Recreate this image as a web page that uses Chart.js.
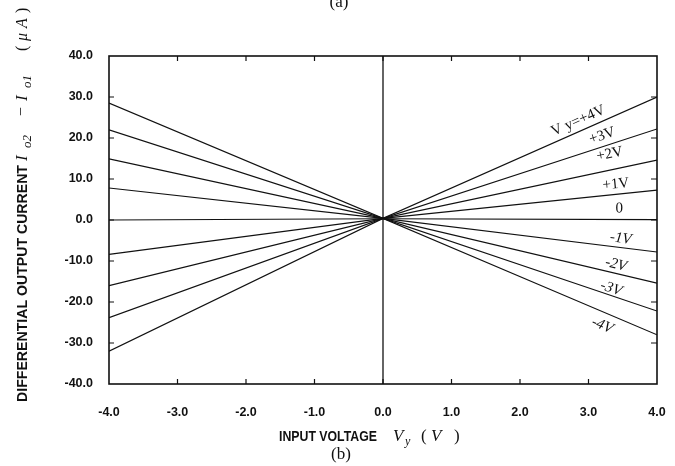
<!DOCTYPE html>
<html>
<head>
<meta charset="utf-8">
<script src="https://cdn.jsdelivr.net/npm/chart.js@4.4.1/dist/chart.umd.min.js"></script>
<style>
  html, body { margin: 0; padding: 0; background: #fff; }
  #wrap { width: 675px; height: 466px; }
</style>
</head>
<body>
<div id="wrap"><canvas id="myChart" width="675" height="466"></canvas></div>
<script>
// input voltage (x) and differential output current (y, uA) for each Vy
const inputVoltage = [-4, 0, 4];

const vyNames = ['+4V', '+3V', '+2V', '+1V', '0', '-1V', '-2V', '-3V', '-4V'];

const vyPlus4 = [28.5, 0.4, 30.0];
const vyPlus3 = [22.0, 0.4, 22.2];
const vyPlus2 = [14.9, 0.4, 14.6];
const vyPlus1 = [7.8, 0.4, 7.3];
const vyZero = [0.0, 0.3, 0.1];
const vyMinus1 = [-8.4, 0.4, -7.8];
const vyMinus2 = [-16.0, 0.4, -15.4];
const vyMinus3 = [-23.8, 0.4, -22.2];
const vyMinus4 = [-32.0, 0.4, -28.0];

const xTicks = [-4, -3, -2, -1, 0, 1, 2, 3, 4];
const yTicks = [-40, -30, -20, -10, 0, 10, 20, 30, 40];

const allSeries = [vyPlus4, vyPlus3, vyPlus2, vyPlus1, vyZero, vyMinus1, vyMinus2, vyMinus3, vyMinus4];

// where the curve labels sit: x on the curve, and pixels above it
const labelText = ['V y=+4V', '+3V', '+2V', '+1V', '0', '-1V', '-2V', '-3V', '-4V'];
const labelAt = [2.85, 3.2, 3.31, 3.4, 3.45, 3.47, 3.4, 3.33, 3.2];
const labelLift = [11, 11, 16, 10, 11, 9, 9, 7, -14];

const datasets = allSeries.map((vals, i) => ({
    label: vyNames[i],
    data: vals.map((v, j) => ({ x: inputVoltage[j], y: v })),
    borderColor: '#111',
    borderWidth: 1.2,
    pointRadius: 0,
    fill: false,
    tension: 0
}));

// draw text squeezed to a given width
function fitText(ctx, str, x, y, w) {
    const real = ctx.measureText(str).width;
    ctx.save();
    ctx.translate(x, y);
    ctx.scale(w / real, 1);
    ctx.fillText(str, 0, 0);
    ctx.restore();
}

const frame = {
    id: 'frame',
    afterDraw(chart) {
        const { ctx, chartArea: a, scales: { x, y } } = chart;
        ctx.save();
        ctx.strokeStyle = '#111';
        ctx.fillStyle = '#111';

        // box
        ctx.lineWidth = 1.6;
        ctx.strokeRect(a.left, a.top, a.right - a.left, a.bottom - a.top);

        // vertical line at 0
        ctx.lineWidth = 1.3;
        const x0 = x.getPixelForValue(0);
        ctx.beginPath();
        ctx.moveTo(x0, a.top);
        ctx.lineTo(x0, a.bottom);
        ctx.stroke();

        // inward ticks all round
        ctx.lineWidth = 1.2;
        ctx.beginPath();
        xTicks.slice(1, -1).forEach(v => {
            const px = x.getPixelForValue(v);
            ctx.moveTo(px, a.bottom); ctx.lineTo(px, a.bottom - 5);
            ctx.moveTo(px, a.top); ctx.lineTo(px, a.top + 5);
        });
        yTicks.slice(1, -1).forEach(v => {
            const py = y.getPixelForValue(v);
            ctx.moveTo(a.left, py); ctx.lineTo(a.left + 5, py);
            ctx.moveTo(a.right, py); ctx.lineTo(a.right - 6, py);
        });
        ctx.stroke();

        // curve labels
        allSeries.forEach((vals, i) => {
            const xv = labelAt[i];
            const t = (xv - inputVoltage[1]) / (inputVoltage[2] - inputVoltage[1]);
            const yv = vals[1] + t * (vals[2] - vals[1]);
            const p1x = x.getPixelForValue(inputVoltage[1]), p1y = y.getPixelForValue(vals[1]);
            const p2x = x.getPixelForValue(inputVoltage[2]), p2y = y.getPixelForValue(vals[2]);
            const ang = Math.atan2(p2y - p1y, p2x - p1x);
            const px = x.getPixelForValue(xv);
            const py = y.getPixelForValue(yv) - labelLift[i];
            ctx.save();
            ctx.translate(px, py);
            ctx.rotate(ang);
            ctx.textAlign = 'center';
            ctx.textBaseline = 'middle';
            const neg = labelText[i].startsWith('-');
            ctx.font = (neg ? 'italic ' : '') + '15px "Liberation Serif"';
            ctx.fillText(labelText[i], 0, 0);
            ctx.restore();
        });

        // x title
        ctx.textBaseline = 'alphabetic';
        ctx.textAlign = 'left';
        ctx.font = 'bold 14px "Liberation Sans"';
        fitText(ctx, 'INPUT VOLTAGE', 279, 441, 98);
        ctx.font = 'italic 17px "Liberation Serif"';
        ctx.fillText('V', 393, 441);
        ctx.font = 'italic 12px "Liberation Serif"';
        ctx.fillText('y', 405, 445);
        ctx.font = '17px "Liberation Serif"';
        ctx.fillText('(', 421, 441);
        ctx.font = 'italic 17px "Liberation Serif"';
        ctx.fillText('V', 431, 441);
        ctx.font = '17px "Liberation Serif"';
        ctx.fillText(')', 454, 441);

        // figure marks
        ctx.textAlign = 'center';
        ctx.font = '17px "Liberation Serif"';
        ctx.fillText('(b)', 341, 459);
        ctx.fillText('(a)', 339, 7);

        // y title, rotated
        ctx.save();
        ctx.translate(27, 0);
        ctx.rotate(-Math.PI / 2);
        ctx.textAlign = 'left';
        ctx.font = 'bold 14px "Liberation Sans"';
        fitText(ctx, 'DIFFERENTIAL OUTPUT CURRENT', -402, 0, 237);
        ctx.font = 'italic 17px "Liberation Serif"';
        ctx.fillText('I', -161, 0);
        ctx.font = 'italic 13px "Liberation Serif"';
        ctx.fillText('o2', -148, 4);
        ctx.font = '16px "Liberation Serif"';
        ctx.fillText('\u2212', -116, -1);
        ctx.font = 'italic 17px "Liberation Serif"';
        ctx.fillText('I', -101, 0);
        ctx.font = 'italic 13px "Liberation Serif"';
        ctx.fillText('o1', -88, 4);
        ctx.font = '16px "Liberation Serif"';
        ctx.fillText('(', -51, 0);
        ctx.font = 'italic 16px "Liberation Serif"';
        ctx.fillText('\u03bc', -41, 0);
        ctx.fillText('A', -28, 0);
        ctx.font = '16px "Liberation Serif"';
        ctx.fillText(')', -13, 0);
        ctx.restore();

        ctx.restore();
    }
};

const tickFont = { family: 'Liberation Sans', size: 12.5, weight: 'bold' };

const myChart = new Chart(document.getElementById('myChart'), {
    type: 'line',
    data: { datasets: datasets },
    options: {
        responsive: false,
        animation: false,
        devicePixelRatio: 1,
        layout: { padding: { left: 0, right: 18, top: 56, bottom: 0 } },
        plugins: {
            legend: { display: false },
            tooltip: { enabled: false }
        },
        scales: {
            x: {
                type: 'linear',
                min: -4,
                max: 4,
                afterBuildTicks: s => { s.ticks = xTicks.map(v => ({ value: v })); },
                afterFit: s => { s.height = 82; s.paddingLeft = 0; s.paddingRight = 0; },
                grid: { display: false, drawTicks: false },
                border: { display: false },
                ticks: {
                    padding: 21,
                    maxRotation: 0,
                    autoSkip: false,
                    color: '#111',
                    font: tickFont,
                    callback: v => v.toFixed(1)
                }
            },
            y: {
                min: -40,
                max: 40,
                afterBuildTicks: s => { s.ticks = yTicks.map(v => ({ value: v })); },
                afterFit: s => { s.width = 109; s.paddingTop = 0; s.paddingBottom = 0; },
                grid: { display: false, drawTicks: false },
                border: { display: false },
                ticks: {
                    padding: 16,
                    autoSkip: false,
                    color: '#111',
                    font: tickFont,
                    callback: v => v.toFixed(1)
                }
            }
        }
    },
    plugins: [frame]
});
</script>
</body>
</html>
